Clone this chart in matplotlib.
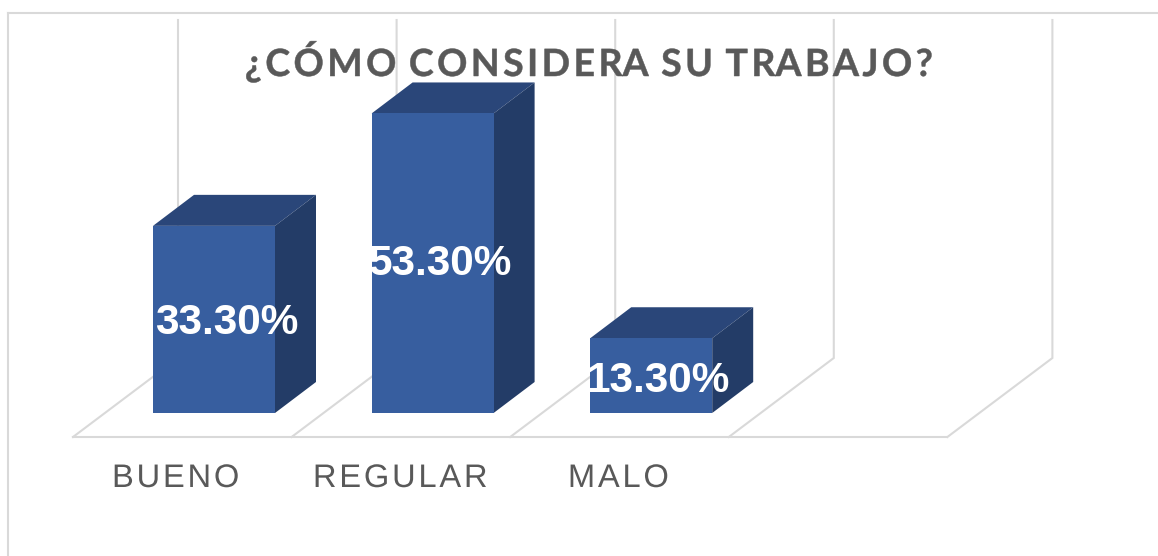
import numpy as np
import matplotlib
matplotlib.use("Agg")
import matplotlib.pyplot as plt
from matplotlib.patheffects import AbstractPathEffect
from matplotlib.path import Path
from matplotlib.transforms import IdentityTransform

categories = ["BUENO", "REGULAR", "MALO"]
values = [33.3, 53.3, 13.3]
value_labels = ["33.30%", "53.30%", "13.30%"]
title_text = "¿CÓMO CONSIDERA SU TRABAJO?"
n_slots = 4

W, H = 1158, 556
PX_X = 218.6      # px per category
PX_Y = 5.62       # px per value unit
X0, Y0 = 153, 413 # pixel of category 0 / value 0
BAR_W = 122 / PX_X
DX_BAR, DY_BAR = 41 / PX_X, 31 / PX_Y
FLOOR_FRONT = (Y0 - 437) / PX_Y
FLOOR_BACK = (Y0 - 358) / PX_Y
WALL_TOP = (Y0 - 20) / PX_Y
SLOT0 = (73 - X0) / PX_X
DX_WALL = 105 / PX_X
LABEL_NUDGE = [102.5, 108.5, 108]
VALUE_NUDGE = [13, 8, 7]

GRID = "#D9D9D9"
FRONT, TOP, SIDE = "#375E9F", "#2A4679", "#233C67"
TEXT = "#595959"


class LetterSpacing(AbstractPathEffect):
    """Draws a text's glyphs with extra tracking, the text staying one string."""
    def __init__(self, px, stroke=0.0):
        super().__init__()
        self.px = px
        self.stroke = stroke

    def draw_path(self, renderer, gc, tpath, affine, rgbFace=None):
        verts = affine.transform(tpath.vertices).copy()
        codes = tpath.codes
        starts = list(np.flatnonzero(codes == Path.MOVETO)) + [len(codes)]
        spans = []
        for a, b in zip(starts[:-1], starts[1:]):
            keep = codes[a:b] != Path.CLOSEPOLY
            xs = verts[a:b][keep, 0]
            spans.append([xs.min(), xs.max(), a, b])
        spans.sort(key=lambda s: s[0])
        glyphs = []
        for s in spans:
            if glyphs and s[0] < glyphs[-1][0] - 0.2:
                glyphs[-1][1].append(s)
                glyphs[-1][0] = max(glyphs[-1][0], s[1])
            else:
                glyphs.append([s[1], [s]])
        n = len(glyphs)
        for k, (_, members) in enumerate(glyphs):
            for s in members:
                verts[s[2]:s[3], 0] += (k - (n - 1) / 2) * self.px
        if self.stroke:
            gc.set_linewidth(self.stroke)
            gc.set_foreground(rgbFace)
        renderer.draw_path(gc, Path(verts, codes), IdentityTransform(), rgbFace)


fig = plt.figure(figsize=(W / 100, H / 100), dpi=100, facecolor="white")
ax = fig.add_axes([0, 0, 1, 1])
ax.set_xlim(-X0 / PX_X, (W - X0) / PX_X)
ax.set_ylim((Y0 - H) / PX_Y, Y0 / PX_Y)
ax.axis("off")

# outer frame (open at right and bottom, as cropped)
ax.plot([0.0072, 0.0072], [0, 0.977], transform=ax.transAxes, color=GRID, lw=1.5, zorder=1)
ax.plot([0.0072, 1], [0.977, 0.977], transform=ax.transAxes, color=GRID, lw=1.5, zorder=1)

# walls and floor
for i in range(n_slots + 1):
    fx = SLOT0 + i
    bx = fx + DX_WALL
    ax.plot([fx, bx, bx], [FLOOR_FRONT, FLOOR_BACK, WALL_TOP], color=GRID, lw=1.5, zorder=2,
            solid_joinstyle="miter")
ax.plot([SLOT0, SLOT0 + n_slots], [FLOOR_FRONT, FLOOR_FRONT], color=GRID, lw=1.5, zorder=2)

# 3D bars
for i, v in enumerate(values):
    l, r = i, i + BAR_W
    ax.fill([l, r, r, l], [0, 0, v, v], color=FRONT, lw=0, zorder=4)
    ax.fill([l, r, r + DX_BAR, l + DX_BAR], [v, v, v + DY_BAR, v + DY_BAR], color=TOP, lw=0, zorder=3)
    ax.fill([r, r + DX_BAR, r + DX_BAR, r], [0, DY_BAR, v + DY_BAR, v], color=SIDE, lw=0, zorder=3)
    ax.text(i + BAR_W / 2 + VALUE_NUDGE[i] / PX_X, 0.52 * v - 0.45, value_labels[i], color="white",
            family="Liberation Sans", weight="bold", fontsize=30.5,
            ha="center", va="center_baseline", zorder=6)
    ax.text(SLOT0 + i + LABEL_NUDGE[i] / PX_X, (Y0 - 475) / PX_Y, categories[i], color=TEXT,
            family="Liberation Sans", fontsize=23.5, ha="center", va="center_baseline", zorder=6,
            path_effects=[LetterSpacing(2.8)])

ax.text(0.5 * (244 + 933) / W, 1 - 58 / H, title_text, transform=ax.transAxes, color=TEXT,
        family="Lato", weight="bold", fontsize=27, ha="center", va="center_baseline",
        zorder=6, path_effects=[LetterSpacing(3.4, stroke=0.35)])

fig.savefig("out.png", dpi=100, facecolor="white")
